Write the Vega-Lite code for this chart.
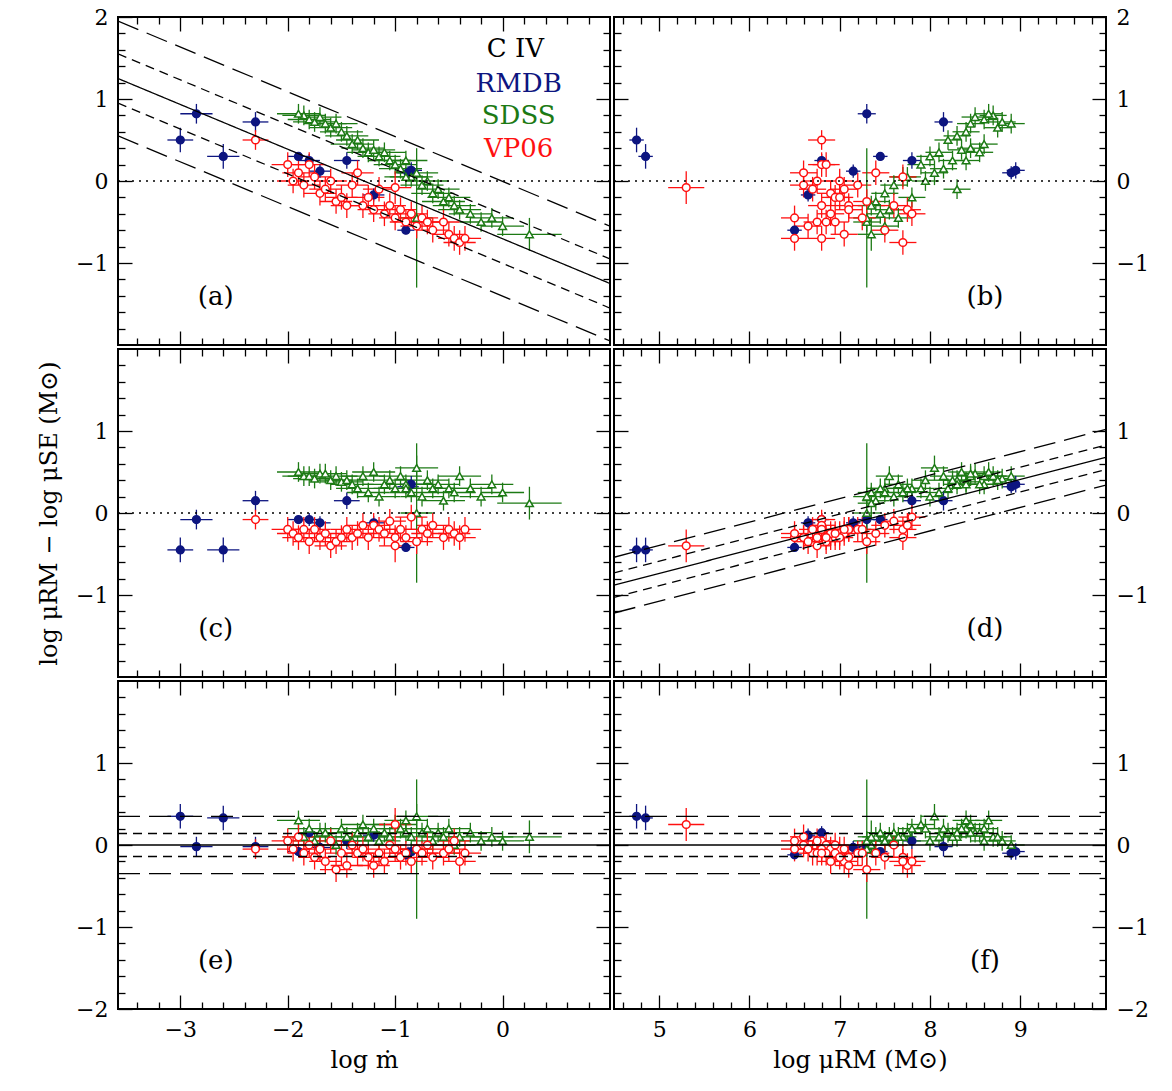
{
"$schema":"https://vega.github.io/schema/vega-lite/v6.json",
"padding":{"left":36,"top":5,"right":8,"bottom":4},
"background":"white",
"spacing":0,
"config":{"view":{"stroke":"black","strokeWidth":2},"concat":{"spacing":0},
"axis":{"grid":false,"domain":false,"tickColor":"black","tickWidth":1.3,"labelColor":"black","labelFont":"DejaVu Serif","labelFontSize":22,"titleFont":"DejaVu Serif","titleFontSize":24,"titleFontWeight":"normal","titleColor":"black","labelOverlap":false,"labelFlush":false,"labelBound":false},
"text":{"font":"DejaVu Serif"}},
"datasets":{
"pts":[
{"g":"RMDB","m":-3.0,"em":0.12,"M":4.75,"eM":0.08,"r1":0.5,"r2":-0.45,"r3":0.35,"ey":0.15},
{"g":"RMDB","m":-2.85,"em":0.15,"M":7.3,"eM":0.1,"r1":0.82,"r2":-0.08,"r3":-0.02,"ey":0.12},
{"g":"RMDB","m":-2.6,"em":0.15,"M":4.85,"eM":0.08,"r1":0.3,"r2":-0.45,"r3":0.33,"ey":0.15},
{"g":"RMDB","m":-2.3,"em":0.12,"M":8.15,"eM":0.1,"r1":0.72,"r2":0.15,"r3":-0.02,"ey":0.12},
{"g":"RMDB","m":-1.9,"em":0.1,"M":7.45,"eM":0.08,"r1":0.3,"r2":-0.08,"r3":-0.08,"ey":0.05},
{"g":"RMDB","m":-1.8,"em":0.1,"M":6.8,"eM":0.08,"r1":0.25,"r2":-0.08,"r3":0.15,"ey":0.08},
{"g":"RMDB","m":-1.7,"em":0.1,"M":7.15,"eM":0.08,"r1":0.12,"r2":-0.12,"r3":-0.03,"ey":0.08},
{"g":"RMDB","m":-1.45,"em":0.12,"M":7.8,"eM":0.1,"r1":0.25,"r2":0.15,"r3":0.05,"ey":0.1},
{"g":"RMDB","m":-1.2,"em":0.1,"M":6.65,"eM":0.08,"r1":-0.17,"r2":-0.12,"r3":0.12,"ey":0.08},
{"g":"RMDB","m":-0.9,"em":0.08,"M":6.5,"eM":0.08,"r1":-0.6,"r2":-0.42,"r3":-0.12,"ey":0.05},
{"g":"RMDB","m":-0.88,"em":0.1,"M":8.9,"eM":0.1,"r1":0.1,"r2":0.32,"r3":-0.1,"ey":0.08},
{"g":"RMDB","m":-0.85,"em":0.1,"M":8.95,"eM":0.1,"r1":0.13,"r2":0.35,"r3":-0.08,"ey":0.1},
{"g":"SDSS","m":-1.85,"em":0.2,"M":8.7,"eM":0.15,"r1":0.8,"r2":0.45,"r3":0.1,"ey":0.12},
{"g":"SDSS","m":-1.8,"em":0.2,"M":8.6,"eM":0.15,"r1":0.75,"r2":0.45,"r3":0.2,"ey":0.12},
{"g":"SDSS","m":-1.75,"em":0.2,"M":8.8,"eM":0.15,"r1":0.72,"r2":0.42,"r3":0.05,"ey":0.12},
{"g":"SDSS","m":-1.7,"em":0.2,"M":8.5,"eM":0.15,"r1":0.78,"r2":0.48,"r3":0.15,"ey":0.12},
{"g":"SDSS","m":-1.6,"em":0.2,"M":8.75,"eM":0.15,"r1":0.65,"r2":0.4,"r3":0.1,"ey":0.12},
{"g":"SDSS","m":-1.55,"em":0.2,"M":8.9,"eM":0.15,"r1":0.7,"r2":0.45,"r3":0.0,"ey":0.12},
{"g":"SDSS","m":-1.5,"em":0.2,"M":8.4,"eM":0.15,"r1":0.6,"r2":0.38,"r3":0.2,"ey":0.12},
{"g":"SDSS","m":-1.45,"em":0.2,"M":8.3,"eM":0.15,"r1":0.55,"r2":0.4,"r3":0.1,"ey":0.12},
{"g":"SDSS","m":-1.4,"em":0.2,"M":8.6,"eM":0.15,"r1":0.45,"r2":0.35,"r3":0.05,"ey":0.12},
{"g":"SDSS","m":-1.35,"em":0.2,"M":8.2,"eM":0.15,"r1":0.5,"r2":0.3,"r3":0.15,"ey":0.12},
{"g":"SDSS","m":-1.3,"em":0.2,"M":8.45,"eM":0.15,"r1":0.4,"r2":0.45,"r3":0.25,"ey":0.12},
{"g":"SDSS","m":-1.25,"em":0.2,"M":8.1,"eM":0.15,"r1":0.35,"r2":0.25,"r3":0.1,"ey":0.12},
{"g":"SDSS","m":-1.2,"em":0.2,"M":8.35,"eM":0.15,"r1":0.38,"r2":0.5,"r3":0.2,"ey":0.12},
{"g":"SDSS","m":-1.15,"em":0.2,"M":8.0,"eM":0.15,"r1":0.3,"r2":0.2,"r3":0.05,"ey":0.12},
{"g":"SDSS","m":-1.1,"em":0.2,"M":8.55,"eM":0.15,"r1":0.35,"r2":0.35,"r3":0.15,"ey":0.12},
{"g":"SDSS","m":-1.05,"em":0.2,"M":8.25,"eM":0.15,"r1":0.25,"r2":0.4,"r3":0.1,"ey":0.12},
{"g":"SDSS","m":-1.0,"em":0.2,"M":7.9,"eM":0.15,"r1":0.2,"r2":0.3,"r3":0.25,"ey":0.12},
{"g":"SDSS","m":-0.95,"em":0.2,"M":8.15,"eM":0.15,"r1":0.15,"r2":0.45,"r3":0.2,"ey":0.12},
{"g":"SDSS","m":-0.9,"em":0.2,"M":8.4,"eM":0.15,"r1":0.25,"r2":0.35,"r3":0.3,"ey":0.12},
{"g":"SDSS","m":-0.85,"em":0.2,"M":7.7,"eM":0.15,"r1":0.05,"r2":0.25,"r3":0.1,"ey":0.12},
{"g":"SDSS","m":-0.8,"em":0.2,"M":8.05,"eM":0.15,"r1":0.1,"r2":0.55,"r3":0.35,"ey":0.15},
{"g":"SDSS","m":-0.75,"em":0.2,"M":7.6,"eM":0.15,"r1":-0.05,"r2":0.2,"r3":0.15,"ey":0.12},
{"g":"SDSS","m":-0.7,"em":0.2,"M":7.95,"eM":0.15,"r1":0.0,"r2":0.4,"r3":0.2,"ey":0.12},
{"g":"SDSS","m":-0.65,"em":0.2,"M":7.5,"eM":0.15,"r1":-0.15,"r2":0.3,"r3":0.05,"ey":0.12},
{"g":"SDSS","m":-0.6,"em":0.2,"M":8.3,"eM":0.15,"r1":-0.1,"r2":0.35,"r3":0.15,"ey":0.12},
{"g":"SDSS","m":-0.55,"em":0.2,"M":7.4,"eM":0.15,"r1":-0.25,"r2":0.15,"r3":0.1,"ey":0.12},
{"g":"SDSS","m":-0.5,"em":0.2,"M":7.8,"eM":0.15,"r1":-0.2,"r2":0.3,"r3":0.2,"ey":0.12},
{"g":"SDSS","m":-0.45,"em":0.2,"M":7.35,"eM":0.15,"r1":-0.3,"r2":0.25,"r3":0.0,"ey":0.12},
{"g":"SDSS","m":-0.4,"em":0.2,"M":7.55,"eM":0.15,"r1":-0.35,"r2":0.45,"r3":0.1,"ey":0.12},
{"g":"SDSS","m":-0.3,"em":0.2,"M":7.45,"eM":0.15,"r1":-0.4,"r2":0.3,"r3":0.15,"ey":0.12},
{"g":"SDSS","m":-0.2,"em":0.2,"M":7.3,"eM":0.15,"r1":-0.5,"r2":0.2,"r3":0.05,"ey":0.12},
{"g":"SDSS","m":-0.1,"em":0.2,"M":7.65,"eM":0.15,"r1":-0.45,"r2":0.35,"r3":0.1,"ey":0.12},
{"g":"SDSS","m":0.0,"em":0.2,"M":7.5,"eM":0.15,"r1":-0.55,"r2":0.25,"r3":0.05,"ey":0.12},
{"g":"SDSS","m":0.25,"em":0.3,"M":7.35,"eM":0.15,"r1":-0.65,"r2":0.12,"r3":0.1,"ey":0.2},
{"g":"SDSS","m":-1.9,"em":0.2,"M":8.65,"eM":0.15,"r1":0.82,"r2":0.5,"r3":0.3,"ey":0.12},
{"g":"SDSS","m":-1.65,"em":0.2,"M":8.45,"eM":0.15,"r1":0.7,"r2":0.48,"r3":0.15,"ey":0.12},
{"g":"SDSS","m":-0.9,"em":0.2,"M":7.75,"eM":0.15,"r1":0.05,"r2":0.3,"r3":0.15,"ey":0.12},
{"g":"SDSS","m":-0.8,"em":0.15,"M":7.3,"eM":0.15,"r1":-0.45,"r2":0.0,"r3":-0.05,"ey":0.85},
{"g":"VP06","m":-2.3,"em":0.12,"M":6.8,"eM":0.15,"r1":0.5,"r2":-0.08,"r3":-0.05,"ey":0.12},
{"g":"VP06","m":-2.0,"em":0.15,"M":6.8,"eM":0.15,"r1":0.2,"r2":-0.2,"r3":0.05,"ey":0.15},
{"g":"VP06","m":-1.95,"em":0.15,"M":7.0,"eM":0.15,"r1":0.0,"r2":-0.25,"r3":-0.05,"ey":0.15},
{"g":"VP06","m":-1.9,"em":0.15,"M":6.6,"eM":0.15,"r1":0.1,"r2":-0.3,"r3":0.1,"ey":0.15},
{"g":"VP06","m":-1.85,"em":0.15,"M":7.2,"eM":0.15,"r1":-0.05,"r2":-0.2,"r3":-0.1,"ey":0.15},
{"g":"VP06","m":-1.8,"em":0.15,"M":6.85,"eM":0.15,"r1":0.2,"r2":-0.35,"r3":0.0,"ey":0.15},
{"g":"VP06","m":-1.75,"em":0.15,"M":7.7,"eM":0.15,"r1":0.05,"r2":-0.2,"r3":-0.15,"ey":0.15},
{"g":"VP06","m":-1.7,"em":0.15,"M":6.9,"eM":0.15,"r1":-0.15,"r2":-0.3,"r3":-0.05,"ey":0.15},
{"g":"VP06","m":-1.65,"em":0.15,"M":7.05,"eM":0.15,"r1":-0.1,"r2":-0.25,"r3":-0.2,"ey":0.15},
{"g":"VP06","m":-1.6,"em":0.15,"M":6.75,"eM":0.15,"r1":0.0,"r2":-0.4,"r3":0.05,"ey":0.15},
{"g":"VP06","m":-1.55,"em":0.15,"M":7.3,"eM":0.15,"r1":-0.25,"r2":-0.35,"r3":-0.3,"ey":0.15},
{"g":"VP06","m":-1.5,"em":0.15,"M":6.95,"eM":0.15,"r1":-0.2,"r2":-0.3,"r3":-0.1,"ey":0.15},
{"g":"VP06","m":-1.45,"em":0.15,"M":7.1,"eM":0.15,"r1":-0.3,"r2":-0.2,"r3":-0.25,"ey":0.15},
{"g":"VP06","m":-1.4,"em":0.15,"M":6.6,"eM":0.15,"r1":-0.05,"r2":-0.3,"r3":0.0,"ey":0.15},
{"g":"VP06","m":-1.35,"em":0.15,"M":7.4,"eM":0.15,"r1":0.1,"r2":-0.25,"r3":-0.1,"ey":0.15},
{"g":"VP06","m":-1.3,"em":0.15,"M":6.8,"eM":0.15,"r1":-0.3,"r2":-0.15,"r3":-0.05,"ey":0.15},
{"g":"VP06","m":-1.25,"em":0.15,"M":7.0,"eM":0.15,"r1":-0.2,"r2":-0.3,"r3":-0.15,"ey":0.15},
{"g":"VP06","m":-1.2,"em":0.15,"M":7.75,"eM":0.15,"r1":-0.35,"r2":-0.15,"r3":-0.25,"ey":0.15},
{"g":"VP06","m":-1.15,"em":0.15,"M":6.7,"eM":0.15,"r1":-0.1,"r2":-0.2,"r3":-0.1,"ey":0.15},
{"g":"VP06","m":-1.1,"em":0.15,"M":6.9,"eM":0.15,"r1":-0.4,"r2":-0.25,"r3":-0.2,"ey":0.15},
{"g":"VP06","m":-1.05,"em":0.15,"M":7.6,"eM":0.15,"r1":-0.3,"r2":-0.1,"r3":0.0,"ey":0.15},
{"g":"VP06","m":-1.0,"em":0.15,"M":6.5,"eM":0.15,"r1":-0.45,"r2":-0.3,"r3":-0.05,"ey":0.15},
{"g":"VP06","m":-0.95,"em":0.15,"M":7.1,"eM":0.15,"r1":-0.35,"r2":-0.2,"r3":-0.15,"ey":0.15},
{"g":"VP06","m":-0.9,"em":0.15,"M":6.85,"eM":0.15,"r1":-0.5,"r2":-0.3,"r3":-0.1,"ey":0.15},
{"g":"VP06","m":-0.85,"em":0.15,"M":7.8,"eM":0.15,"r1":-0.4,"r2":-0.05,"r3":-0.2,"ey":0.15},
{"g":"VP06","m":-0.8,"em":0.15,"M":6.65,"eM":0.15,"r1":-0.55,"r2":-0.35,"r3":-0.05,"ey":0.15},
{"g":"VP06","m":-0.75,"em":0.15,"M":7.25,"eM":0.15,"r1":-0.45,"r2":-0.2,"r3":-0.1,"ey":0.15},
{"g":"VP06","m":-0.7,"em":0.15,"M":6.95,"eM":0.15,"r1":-0.5,"r2":-0.25,"r3":0.0,"ey":0.15},
{"g":"VP06","m":-0.65,"em":0.15,"M":7.5,"eM":0.15,"r1":-0.6,"r2":-0.15,"r3":-0.15,"ey":0.15},
{"g":"VP06","m":-0.55,"em":0.15,"M":6.75,"eM":0.15,"r1":-0.5,"r2":-0.3,"r3":-0.1,"ey":0.15},
{"g":"VP06","m":-0.5,"em":0.15,"M":7.05,"eM":0.15,"r1":-0.65,"r2":-0.2,"r3":-0.05,"ey":0.15},
{"g":"VP06","m":-0.45,"em":0.15,"M":6.5,"eM":0.15,"r1":-0.7,"r2":-0.25,"r3":0.05,"ey":0.15},
{"g":"VP06","m":-0.4,"em":0.15,"M":7.7,"eM":0.15,"r1":-0.75,"r2":-0.3,"r3":-0.2,"ey":0.15},
{"g":"VP06","m":-0.35,"em":0.15,"M":6.8,"eM":0.15,"r1":-0.7,"r2":-0.2,"r3":-0.1,"ey":0.15},
{"g":"VP06","m":-1.0,"em":0.15,"M":5.3,"eM":0.2,"r1":-0.08,"r2":-0.4,"r3":0.25,"ey":0.2}
],
"lines":[
{"p":"a","id":"a0","s":"dot","x":-3.58,"y":0},{"p":"a","id":"a0","s":"dot","x":1.0,"y":0},
{"p":"a","id":"a1","s":"solid","x":-3.58,"y":1.25},{"p":"a","id":"a1","s":"solid","x":1.0,"y":-1.25},
{"p":"a","id":"a2","s":"short","x":-3.58,"y":1.55},{"p":"a","id":"a2","s":"short","x":1.0,"y":-0.95},
{"p":"a","id":"a3","s":"short","x":-3.58,"y":0.95},{"p":"a","id":"a3","s":"short","x":1.0,"y":-1.55},
{"p":"a","id":"a4","s":"long","x":-3.58,"y":1.95},{"p":"a","id":"a4","s":"long","x":1.0,"y":-0.55},
{"p":"a","id":"a5","s":"long","x":-3.58,"y":0.55},{"p":"a","id":"a5","s":"long","x":1.0,"y":-1.95},
{"p":"b","id":"b0","s":"dot","x":4.5,"y":0},{"p":"b","id":"b0","s":"dot","x":9.95,"y":0},
{"p":"c","id":"c0","s":"dot","x":-3.58,"y":0},{"p":"c","id":"c0","s":"dot","x":1.0,"y":0},
{"p":"d","id":"d0","s":"dot","x":4.5,"y":0},{"p":"d","id":"d0","s":"dot","x":9.95,"y":0},
{"p":"d","id":"d1","s":"solid","x":4.5,"y":-0.88},{"p":"d","id":"d1","s":"solid","x":9.95,"y":0.68},
{"p":"d","id":"d2","s":"short","x":4.5,"y":-0.73},{"p":"d","id":"d2","s":"short","x":9.95,"y":0.83},
{"p":"d","id":"d3","s":"short","x":4.5,"y":-1.03},{"p":"d","id":"d3","s":"short","x":9.95,"y":0.53},
{"p":"d","id":"d4","s":"long","x":4.5,"y":-0.54},{"p":"d","id":"d4","s":"long","x":9.95,"y":1.02},
{"p":"d","id":"d5","s":"long","x":4.5,"y":-1.22},{"p":"d","id":"d5","s":"long","x":9.95,"y":0.34},
{"p":"e","id":"e1","s":"solid","x":-3.58,"y":0},{"p":"e","id":"e1","s":"solid","x":1.0,"y":0},
{"p":"e","id":"e2","s":"short","x":-3.58,"y":0.14},{"p":"e","id":"e2","s":"short","x":1.0,"y":0.14},
{"p":"e","id":"e3","s":"short","x":-3.58,"y":-0.14},{"p":"e","id":"e3","s":"short","x":1.0,"y":-0.14},
{"p":"e","id":"e4","s":"long","x":-3.58,"y":0.35},{"p":"e","id":"e4","s":"long","x":1.0,"y":0.35},
{"p":"e","id":"e5","s":"long","x":-3.58,"y":-0.35},{"p":"e","id":"e5","s":"long","x":1.0,"y":-0.35},
{"p":"f","id":"f1","s":"solid","x":4.5,"y":0},{"p":"f","id":"f1","s":"solid","x":9.95,"y":0},
{"p":"f","id":"f2","s":"short","x":4.5,"y":0.14},{"p":"f","id":"f2","s":"short","x":9.95,"y":0.14},
{"p":"f","id":"f3","s":"short","x":4.5,"y":-0.14},{"p":"f","id":"f3","s":"short","x":9.95,"y":-0.14},
{"p":"f","id":"f4","s":"long","x":4.5,"y":0.35},{"p":"f","id":"f4","s":"long","x":9.95,"y":0.35},
{"p":"f","id":"f5","s":"long","x":4.5,"y":-0.35},{"p":"f","id":"f5","s":"long","x":9.95,"y":-0.35}
],
"txt":[
{"p":"a","x":0.12,"y":1.61,"t":"C  IV","c":"black"},
{"p":"a","x":0.15,"y":1.18,"t":"RMDB","c":"#0d1580"},
{"p":"a","x":0.15,"y":0.79,"t":"SDSS","c":"#1c7a14"},
{"p":"a","x":0.15,"y":0.39,"t":"VP06","c":"#ff1010"},
{"p":"a","x":-2.67,"y":-1.42,"t":"(a)","c":"black"},
{"p":"b","x":8.61,"y":-1.42,"t":"(b)","c":"black"},
{"p":"c","x":-2.67,"y":-1.42,"t":"(c)","c":"black"},
{"p":"d","x":8.61,"y":-1.42,"t":"(d)","c":"black"},
{"p":"e","x":-2.67,"y":-1.42,"t":"(e)","c":"black"},
{"p":"f","x":8.61,"y":-1.42,"t":"(f)","c":"black"}
]},
"vconcat":[
{"spacing":0,"hconcat":[
{"width":492,"height":328,"resolve":{"axis":{"x":"independent","y":"independent"}},"layer":[
{"data":{"name":"pts"},"mark":{"type":"errorbar","thickness":1.3},"encoding":{"x":{"field":"m","type":"quantitative","scale":{"domain":[-3.58,1.0],"nice":false,"zero":false},"axis":{"orient":"bottom","values":[-3,-2,-1,0],"tickSize":-14,"labels":false,"title":null}},"xError":{"field":"em"},"y":{"field":"r1","type":"quantitative","scale":{"domain":[-2,2],"nice":false,"zero":false},"axis":{"orient":"left","values":[-1,0,1,2],"tickSize":-14,"labelPadding":24,"title":null}},"color":{"field":"g","type":"nominal","scale":{"domain":["RMDB","SDSS","VP06"],"range":["#0d1580","#1c7a14","#ff1010"]},"legend":null}}},
{"data":{"name":"pts"},"mark":{"type":"errorbar","thickness":1.3},"encoding":{"y":{"field":"r1","type":"quantitative","scale":{"domain":[-2,2],"nice":false,"zero":false},"axis":{"orient":"right","values":[-1,0,1],"tickSize":-14,"labels":false,"title":null}},"yError":{"field":"ey"},"x":{"field":"m","type":"quantitative","scale":{"domain":[-3.58,1.0],"nice":false,"zero":false},"axis":{"orient":"top","values":[-3,-2,-1,0],"tickSize":-14,"labels":false,"title":null}},"color":{"field":"g","type":"nominal","legend":null}}},
{"data":{"name":"pts"},"mark":{"type":"point","filled":false,"size":60,"strokeWidth":1.5,"opacity":1},"encoding":{"x":{"field":"m","type":"quantitative","scale":{"domain":[-3.58,1.0],"nice":false,"zero":false},"axis":{"orient":"bottom","values":[-3.4,-3.2,-2.8,-2.6,-2.4,-2.2,-1.8,-1.6,-1.4,-1.2,-0.8,-0.6,-0.4,-0.2,0.2,0.4,0.6,0.8],"tickSize":-7,"labels":false,"title":null}},"y":{"field":"r1","type":"quantitative","scale":{"domain":[-2,2],"nice":false,"zero":false},"axis":{"orient":"left","values":[-1.8,-1.6,-1.4,-1.2,-0.8,-0.6,-0.4,-0.2,0.2,0.4,0.6,0.8,1.2,1.4,1.6,1.8],"tickSize":-7,"labels":false,"title":null}},"stroke":{"field":"g","type":"nominal","scale":{"domain":["RMDB","SDSS","VP06"],"range":["#0d1580","#1c7a14","#ff1010"]},"legend":null},"fill":{"field":"g","type":"nominal","scale":{"domain":["RMDB","SDSS","VP06"],"range":["#0d1580","white","white"]},"legend":null},"shape":{"field":"g","type":"nominal","scale":{"domain":["RMDB","SDSS","VP06"],"range":["circle","triangle-up","circle"]},"legend":null}}},
{"data":{"name":"lines"},"transform":[{"filter":"datum.p=='a'"}],"mark":{"type":"line","clip":true,"color":"black","strokeWidth":1.3},"encoding":{"x":{"field":"x","type":"quantitative","scale":{"domain":[-3.58,1.0],"nice":false,"zero":false},"axis":{"orient":"top","values":[-3.4,-3.2,-2.8,-2.6,-2.4,-2.2,-1.8,-1.6,-1.4,-1.2,-0.8,-0.6,-0.4,-0.2,0.2,0.4,0.6,0.8],"tickSize":-7,"labels":false,"title":null}},"y":{"field":"y","type":"quantitative","scale":{"domain":[-2,2],"nice":false,"zero":false},"axis":{"orient":"right","values":[-1.8,-1.6,-1.4,-1.2,-0.8,-0.6,-0.4,-0.2,0.2,0.4,0.6,0.8,1.2,1.4,1.6,1.8],"tickSize":-7,"labels":false,"title":null}},"detail":{"field":"id"},"strokeDash":{"field":"s","type":"nominal","scale":{"domain":["solid","short","long","dot"],"range":[[1,0],[9,6],[22,9],[2,5]]},"legend":null}}},
{"data":{"name":"txt"},"transform":[{"filter":"datum.p=='a'"}],"mark":{"type":"text","fontSize":26,"align":"center","baseline":"middle"},"encoding":{"x":{"field":"x","type":"quantitative","axis":null},"y":{"field":"y","type":"quantitative","axis":null},"text":{"field":"t"},"color":{"field":"c","type":"nominal","scale":null}}}
]},
{"width":492,"height":328,"resolve":{"axis":{"x":"independent","y":"independent"}},"layer":[
{"data":{"name":"pts"},"mark":{"type":"errorbar","thickness":1.3},"encoding":{"x":{"field":"M","type":"quantitative","scale":{"domain":[4.5,9.95],"nice":false,"zero":false},"axis":{"orient":"bottom","values":[5,6,7,8,9],"tickSize":-14,"labels":false,"title":null}},"xError":{"field":"eM"},"y":{"field":"r1","type":"quantitative","scale":{"domain":[-2,2],"nice":false,"zero":false},"axis":{"orient":"left","values":[-1,0,1],"tickSize":-14,"labels":false,"title":null}},"color":{"field":"g","type":"nominal","scale":{"domain":["RMDB","SDSS","VP06"],"range":["#0d1580","#1c7a14","#ff1010"]},"legend":null}}},
{"data":{"name":"pts"},"mark":{"type":"errorbar","thickness":1.3},"encoding":{"y":{"field":"r1","type":"quantitative","scale":{"domain":[-2,2],"nice":false,"zero":false},"axis":{"orient":"right","values":[-1,0,1,2],"tickSize":-14,"labelPadding":24,"title":null}},"yError":{"field":"ey"},"x":{"field":"M","type":"quantitative","scale":{"domain":[4.5,9.95],"nice":false,"zero":false},"axis":{"orient":"top","values":[5,6,7,8,9],"tickSize":-14,"labels":false,"title":null}},"color":{"field":"g","type":"nominal","legend":null}}},
{"data":{"name":"pts"},"mark":{"type":"point","filled":false,"size":60,"strokeWidth":1.5,"opacity":1},"encoding":{"x":{"field":"M","type":"quantitative","scale":{"domain":[4.5,9.95],"nice":false,"zero":false},"axis":{"orient":"bottom","values":[4.6,4.8,5.2,5.4,5.6,5.8,6.2,6.4,6.6,6.8,7.2,7.4,7.6,7.8,8.2,8.4,8.6,8.8,9.2,9.4,9.6,9.8],"tickSize":-7,"labels":false,"title":null}},"y":{"field":"r1","type":"quantitative","scale":{"domain":[-2,2],"nice":false,"zero":false},"axis":{"orient":"left","values":[-1.8,-1.6,-1.4,-1.2,-0.8,-0.6,-0.4,-0.2,0.2,0.4,0.6,0.8,1.2,1.4,1.6,1.8],"tickSize":-7,"labels":false,"title":null}},"stroke":{"field":"g","type":"nominal","scale":{"domain":["RMDB","SDSS","VP06"],"range":["#0d1580","#1c7a14","#ff1010"]},"legend":null},"fill":{"field":"g","type":"nominal","scale":{"domain":["RMDB","SDSS","VP06"],"range":["#0d1580","white","white"]},"legend":null},"shape":{"field":"g","type":"nominal","scale":{"domain":["RMDB","SDSS","VP06"],"range":["circle","triangle-up","circle"]},"legend":null}}},
{"data":{"name":"lines"},"transform":[{"filter":"datum.p=='b'"}],"mark":{"type":"line","clip":true,"color":"black","strokeWidth":1.3},"encoding":{"x":{"field":"x","type":"quantitative","scale":{"domain":[4.5,9.95],"nice":false,"zero":false},"axis":{"orient":"top","values":[4.6,4.8,5.2,5.4,5.6,5.8,6.2,6.4,6.6,6.8,7.2,7.4,7.6,7.8,8.2,8.4,8.6,8.8,9.2,9.4,9.6,9.8],"tickSize":-7,"labels":false,"title":null}},"y":{"field":"y","type":"quantitative","scale":{"domain":[-2,2],"nice":false,"zero":false},"axis":{"orient":"right","values":[-1.8,-1.6,-1.4,-1.2,-0.8,-0.6,-0.4,-0.2,0.2,0.4,0.6,0.8,1.2,1.4,1.6,1.8],"tickSize":-7,"labels":false,"title":null}},"detail":{"field":"id"},"strokeDash":{"field":"s","type":"nominal","scale":{"domain":["solid","short","long","dot"],"range":[[1,0],[9,6],[22,9],[2,5]]},"legend":null}}},
{"data":{"name":"txt"},"transform":[{"filter":"datum.p=='b'"}],"mark":{"type":"text","fontSize":26,"align":"center","baseline":"middle"},"encoding":{"x":{"field":"x","type":"quantitative","axis":null},"y":{"field":"y","type":"quantitative","axis":null},"text":{"field":"t"},"color":{"field":"c","type":"nominal","scale":null}}}
]}
]},
{"spacing":0,"hconcat":[
{"width":492,"height":328,"resolve":{"axis":{"x":"independent","y":"independent"}},"layer":[
{"data":{"name":"pts"},"mark":{"type":"errorbar","thickness":1.3},"encoding":{"x":{"field":"m","type":"quantitative","scale":{"domain":[-3.58,1.0],"nice":false,"zero":false},"axis":{"orient":"bottom","values":[-3,-2,-1,0],"tickSize":-14,"labels":false,"title":null}},"xError":{"field":"em"},"y":{"field":"r2","type":"quantitative","scale":{"domain":[-2,2],"nice":false,"zero":false},"axis":{"orient":"left","values":[-1,0,1],"tickSize":-14,"labelPadding":24,"title":"log μRM − log μSE (M⊙)","titlePadding":14}},"color":{"field":"g","type":"nominal","scale":{"domain":["RMDB","SDSS","VP06"],"range":["#0d1580","#1c7a14","#ff1010"]},"legend":null}}},
{"data":{"name":"pts"},"mark":{"type":"errorbar","thickness":1.3},"encoding":{"y":{"field":"r2","type":"quantitative","scale":{"domain":[-2,2],"nice":false,"zero":false},"axis":{"orient":"right","values":[-1,0,1],"tickSize":-14,"labels":false,"title":null}},"yError":{"field":"ey"},"x":{"field":"m","type":"quantitative","scale":{"domain":[-3.58,1.0],"nice":false,"zero":false},"axis":{"orient":"top","values":[-3,-2,-1,0],"tickSize":-14,"labels":false,"title":null}},"color":{"field":"g","type":"nominal","legend":null}}},
{"data":{"name":"pts"},"mark":{"type":"point","filled":false,"size":60,"strokeWidth":1.5,"opacity":1},"encoding":{"x":{"field":"m","type":"quantitative","scale":{"domain":[-3.58,1.0],"nice":false,"zero":false},"axis":{"orient":"bottom","values":[-3.4,-3.2,-2.8,-2.6,-2.4,-2.2,-1.8,-1.6,-1.4,-1.2,-0.8,-0.6,-0.4,-0.2,0.2,0.4,0.6,0.8],"tickSize":-7,"labels":false,"title":null}},"y":{"field":"r2","type":"quantitative","scale":{"domain":[-2,2],"nice":false,"zero":false},"axis":{"orient":"left","values":[-1.8,-1.6,-1.4,-1.2,-0.8,-0.6,-0.4,-0.2,0.2,0.4,0.6,0.8,1.2,1.4,1.6,1.8],"tickSize":-7,"labels":false,"title":null}},"stroke":{"field":"g","type":"nominal","scale":{"domain":["RMDB","SDSS","VP06"],"range":["#0d1580","#1c7a14","#ff1010"]},"legend":null},"fill":{"field":"g","type":"nominal","scale":{"domain":["RMDB","SDSS","VP06"],"range":["#0d1580","white","white"]},"legend":null},"shape":{"field":"g","type":"nominal","scale":{"domain":["RMDB","SDSS","VP06"],"range":["circle","triangle-up","circle"]},"legend":null}}},
{"data":{"name":"lines"},"transform":[{"filter":"datum.p=='c'"}],"mark":{"type":"line","clip":true,"color":"black","strokeWidth":1.3},"encoding":{"x":{"field":"x","type":"quantitative","scale":{"domain":[-3.58,1.0],"nice":false,"zero":false},"axis":{"orient":"top","values":[-3.4,-3.2,-2.8,-2.6,-2.4,-2.2,-1.8,-1.6,-1.4,-1.2,-0.8,-0.6,-0.4,-0.2,0.2,0.4,0.6,0.8],"tickSize":-7,"labels":false,"title":null}},"y":{"field":"y","type":"quantitative","scale":{"domain":[-2,2],"nice":false,"zero":false},"axis":{"orient":"right","values":[-1.8,-1.6,-1.4,-1.2,-0.8,-0.6,-0.4,-0.2,0.2,0.4,0.6,0.8,1.2,1.4,1.6,1.8],"tickSize":-7,"labels":false,"title":null}},"detail":{"field":"id"},"strokeDash":{"field":"s","type":"nominal","scale":{"domain":["solid","short","long","dot"],"range":[[1,0],[9,6],[22,9],[2,5]]},"legend":null}}},
{"data":{"name":"txt"},"transform":[{"filter":"datum.p=='c'"}],"mark":{"type":"text","fontSize":26,"align":"center","baseline":"middle"},"encoding":{"x":{"field":"x","type":"quantitative","axis":null},"y":{"field":"y","type":"quantitative","axis":null},"text":{"field":"t"},"color":{"field":"c","type":"nominal","scale":null}}}
]},
{"width":492,"height":328,"resolve":{"axis":{"x":"independent","y":"independent"}},"layer":[
{"data":{"name":"pts"},"mark":{"type":"errorbar","thickness":1.3},"encoding":{"x":{"field":"M","type":"quantitative","scale":{"domain":[4.5,9.95],"nice":false,"zero":false},"axis":{"orient":"bottom","values":[5,6,7,8,9],"tickSize":-14,"labels":false,"title":null}},"xError":{"field":"eM"},"y":{"field":"r2","type":"quantitative","scale":{"domain":[-2,2],"nice":false,"zero":false},"axis":{"orient":"left","values":[-1,0,1],"tickSize":-14,"labels":false,"title":null}},"color":{"field":"g","type":"nominal","scale":{"domain":["RMDB","SDSS","VP06"],"range":["#0d1580","#1c7a14","#ff1010"]},"legend":null}}},
{"data":{"name":"pts"},"mark":{"type":"errorbar","thickness":1.3},"encoding":{"y":{"field":"r2","type":"quantitative","scale":{"domain":[-2,2],"nice":false,"zero":false},"axis":{"orient":"right","values":[-1,0,1],"tickSize":-14,"labelPadding":24,"title":null}},"yError":{"field":"ey"},"x":{"field":"M","type":"quantitative","scale":{"domain":[4.5,9.95],"nice":false,"zero":false},"axis":{"orient":"top","values":[5,6,7,8,9],"tickSize":-14,"labels":false,"title":null}},"color":{"field":"g","type":"nominal","legend":null}}},
{"data":{"name":"pts"},"mark":{"type":"point","filled":false,"size":60,"strokeWidth":1.5,"opacity":1},"encoding":{"x":{"field":"M","type":"quantitative","scale":{"domain":[4.5,9.95],"nice":false,"zero":false},"axis":{"orient":"bottom","values":[4.6,4.8,5.2,5.4,5.6,5.8,6.2,6.4,6.6,6.8,7.2,7.4,7.6,7.8,8.2,8.4,8.6,8.8,9.2,9.4,9.6,9.8],"tickSize":-7,"labels":false,"title":null}},"y":{"field":"r2","type":"quantitative","scale":{"domain":[-2,2],"nice":false,"zero":false},"axis":{"orient":"left","values":[-1.8,-1.6,-1.4,-1.2,-0.8,-0.6,-0.4,-0.2,0.2,0.4,0.6,0.8,1.2,1.4,1.6,1.8],"tickSize":-7,"labels":false,"title":null}},"stroke":{"field":"g","type":"nominal","scale":{"domain":["RMDB","SDSS","VP06"],"range":["#0d1580","#1c7a14","#ff1010"]},"legend":null},"fill":{"field":"g","type":"nominal","scale":{"domain":["RMDB","SDSS","VP06"],"range":["#0d1580","white","white"]},"legend":null},"shape":{"field":"g","type":"nominal","scale":{"domain":["RMDB","SDSS","VP06"],"range":["circle","triangle-up","circle"]},"legend":null}}},
{"data":{"name":"lines"},"transform":[{"filter":"datum.p=='d'"}],"mark":{"type":"line","clip":true,"color":"black","strokeWidth":1.3},"encoding":{"x":{"field":"x","type":"quantitative","scale":{"domain":[4.5,9.95],"nice":false,"zero":false},"axis":{"orient":"top","values":[4.6,4.8,5.2,5.4,5.6,5.8,6.2,6.4,6.6,6.8,7.2,7.4,7.6,7.8,8.2,8.4,8.6,8.8,9.2,9.4,9.6,9.8],"tickSize":-7,"labels":false,"title":null}},"y":{"field":"y","type":"quantitative","scale":{"domain":[-2,2],"nice":false,"zero":false},"axis":{"orient":"right","values":[-1.8,-1.6,-1.4,-1.2,-0.8,-0.6,-0.4,-0.2,0.2,0.4,0.6,0.8,1.2,1.4,1.6,1.8],"tickSize":-7,"labels":false,"title":null}},"detail":{"field":"id"},"strokeDash":{"field":"s","type":"nominal","scale":{"domain":["solid","short","long","dot"],"range":[[1,0],[9,6],[22,9],[2,5]]},"legend":null}}},
{"data":{"name":"txt"},"transform":[{"filter":"datum.p=='d'"}],"mark":{"type":"text","fontSize":26,"align":"center","baseline":"middle"},"encoding":{"x":{"field":"x","type":"quantitative","axis":null},"y":{"field":"y","type":"quantitative","axis":null},"text":{"field":"t"},"color":{"field":"c","type":"nominal","scale":null}}}
]}
]},
{"spacing":0,"hconcat":[
{"width":492,"height":328,"resolve":{"axis":{"x":"independent","y":"independent"}},"layer":[
{"data":{"name":"pts"},"mark":{"type":"errorbar","thickness":1.3},"encoding":{"x":{"field":"m","type":"quantitative","scale":{"domain":[-3.58,1.0],"nice":false,"zero":false},"axis":{"orient":"bottom","values":[-3,-2,-1,0],"tickSize":-14,"labelPadding":24,"title":"log ṁ","titlePadding":8}},"xError":{"field":"em"},"y":{"field":"r3","type":"quantitative","scale":{"domain":[-2,2],"nice":false,"zero":false},"axis":{"orient":"left","values":[-2,-1,0,1],"tickSize":-14,"labelPadding":24,"title":null}},"color":{"field":"g","type":"nominal","scale":{"domain":["RMDB","SDSS","VP06"],"range":["#0d1580","#1c7a14","#ff1010"]},"legend":null}}},
{"data":{"name":"pts"},"mark":{"type":"errorbar","thickness":1.3},"encoding":{"y":{"field":"r3","type":"quantitative","scale":{"domain":[-2,2],"nice":false,"zero":false},"axis":{"orient":"right","values":[-1,0,1],"tickSize":-14,"labels":false,"title":null}},"yError":{"field":"ey"},"x":{"field":"m","type":"quantitative","scale":{"domain":[-3.58,1.0],"nice":false,"zero":false},"axis":{"orient":"top","values":[-3,-2,-1,0],"tickSize":-14,"labels":false,"title":null}},"color":{"field":"g","type":"nominal","legend":null}}},
{"data":{"name":"pts"},"mark":{"type":"point","filled":false,"size":60,"strokeWidth":1.5,"opacity":1},"encoding":{"x":{"field":"m","type":"quantitative","scale":{"domain":[-3.58,1.0],"nice":false,"zero":false},"axis":{"orient":"bottom","values":[-3.4,-3.2,-2.8,-2.6,-2.4,-2.2,-1.8,-1.6,-1.4,-1.2,-0.8,-0.6,-0.4,-0.2,0.2,0.4,0.6,0.8],"tickSize":-7,"labels":false,"title":null}},"y":{"field":"r3","type":"quantitative","scale":{"domain":[-2,2],"nice":false,"zero":false},"axis":{"orient":"left","values":[-1.8,-1.6,-1.4,-1.2,-0.8,-0.6,-0.4,-0.2,0.2,0.4,0.6,0.8,1.2,1.4,1.6,1.8],"tickSize":-7,"labels":false,"title":null}},"stroke":{"field":"g","type":"nominal","scale":{"domain":["RMDB","SDSS","VP06"],"range":["#0d1580","#1c7a14","#ff1010"]},"legend":null},"fill":{"field":"g","type":"nominal","scale":{"domain":["RMDB","SDSS","VP06"],"range":["#0d1580","white","white"]},"legend":null},"shape":{"field":"g","type":"nominal","scale":{"domain":["RMDB","SDSS","VP06"],"range":["circle","triangle-up","circle"]},"legend":null}}},
{"data":{"name":"lines"},"transform":[{"filter":"datum.p=='e'"}],"mark":{"type":"line","clip":true,"color":"black","strokeWidth":1.3},"encoding":{"x":{"field":"x","type":"quantitative","scale":{"domain":[-3.58,1.0],"nice":false,"zero":false},"axis":{"orient":"top","values":[-3.4,-3.2,-2.8,-2.6,-2.4,-2.2,-1.8,-1.6,-1.4,-1.2,-0.8,-0.6,-0.4,-0.2,0.2,0.4,0.6,0.8],"tickSize":-7,"labels":false,"title":null}},"y":{"field":"y","type":"quantitative","scale":{"domain":[-2,2],"nice":false,"zero":false},"axis":{"orient":"right","values":[-1.8,-1.6,-1.4,-1.2,-0.8,-0.6,-0.4,-0.2,0.2,0.4,0.6,0.8,1.2,1.4,1.6,1.8],"tickSize":-7,"labels":false,"title":null}},"detail":{"field":"id"},"strokeDash":{"field":"s","type":"nominal","scale":{"domain":["solid","short","long","dot"],"range":[[1,0],[9,6],[22,9],[2,5]]},"legend":null}}},
{"data":{"name":"txt"},"transform":[{"filter":"datum.p=='e'"}],"mark":{"type":"text","fontSize":26,"align":"center","baseline":"middle"},"encoding":{"x":{"field":"x","type":"quantitative","axis":null},"y":{"field":"y","type":"quantitative","axis":null},"text":{"field":"t"},"color":{"field":"c","type":"nominal","scale":null}}}
]},
{"width":492,"height":328,"resolve":{"axis":{"x":"independent","y":"independent"}},"layer":[
{"data":{"name":"pts"},"mark":{"type":"errorbar","thickness":1.3},"encoding":{"x":{"field":"M","type":"quantitative","scale":{"domain":[4.5,9.95],"nice":false,"zero":false},"axis":{"orient":"bottom","values":[5,6,7,8,9],"tickSize":-14,"labelPadding":24,"title":"log μRM (M⊙)","titlePadding":8}},"xError":{"field":"eM"},"y":{"field":"r3","type":"quantitative","scale":{"domain":[-2,2],"nice":false,"zero":false},"axis":{"orient":"left","values":[-1,0,1],"tickSize":-14,"labels":false,"title":null}},"color":{"field":"g","type":"nominal","scale":{"domain":["RMDB","SDSS","VP06"],"range":["#0d1580","#1c7a14","#ff1010"]},"legend":null}}},
{"data":{"name":"pts"},"mark":{"type":"errorbar","thickness":1.3},"encoding":{"y":{"field":"r3","type":"quantitative","scale":{"domain":[-2,2],"nice":false,"zero":false},"axis":{"orient":"right","values":[-2,-1,0,1],"tickSize":-14,"labelPadding":24,"title":null}},"yError":{"field":"ey"},"x":{"field":"M","type":"quantitative","scale":{"domain":[4.5,9.95],"nice":false,"zero":false},"axis":{"orient":"top","values":[5,6,7,8,9],"tickSize":-14,"labels":false,"title":null}},"color":{"field":"g","type":"nominal","legend":null}}},
{"data":{"name":"pts"},"mark":{"type":"point","filled":false,"size":60,"strokeWidth":1.5,"opacity":1},"encoding":{"x":{"field":"M","type":"quantitative","scale":{"domain":[4.5,9.95],"nice":false,"zero":false},"axis":{"orient":"bottom","values":[4.6,4.8,5.2,5.4,5.6,5.8,6.2,6.4,6.6,6.8,7.2,7.4,7.6,7.8,8.2,8.4,8.6,8.8,9.2,9.4,9.6,9.8],"tickSize":-7,"labels":false,"title":null}},"y":{"field":"r3","type":"quantitative","scale":{"domain":[-2,2],"nice":false,"zero":false},"axis":{"orient":"left","values":[-1.8,-1.6,-1.4,-1.2,-0.8,-0.6,-0.4,-0.2,0.2,0.4,0.6,0.8,1.2,1.4,1.6,1.8],"tickSize":-7,"labels":false,"title":null}},"stroke":{"field":"g","type":"nominal","scale":{"domain":["RMDB","SDSS","VP06"],"range":["#0d1580","#1c7a14","#ff1010"]},"legend":null},"fill":{"field":"g","type":"nominal","scale":{"domain":["RMDB","SDSS","VP06"],"range":["#0d1580","white","white"]},"legend":null},"shape":{"field":"g","type":"nominal","scale":{"domain":["RMDB","SDSS","VP06"],"range":["circle","triangle-up","circle"]},"legend":null}}},
{"data":{"name":"lines"},"transform":[{"filter":"datum.p=='f'"}],"mark":{"type":"line","clip":true,"color":"black","strokeWidth":1.3},"encoding":{"x":{"field":"x","type":"quantitative","scale":{"domain":[4.5,9.95],"nice":false,"zero":false},"axis":{"orient":"top","values":[4.6,4.8,5.2,5.4,5.6,5.8,6.2,6.4,6.6,6.8,7.2,7.4,7.6,7.8,8.2,8.4,8.6,8.8,9.2,9.4,9.6,9.8],"tickSize":-7,"labels":false,"title":null}},"y":{"field":"y","type":"quantitative","scale":{"domain":[-2,2],"nice":false,"zero":false},"axis":{"orient":"right","values":[-1.8,-1.6,-1.4,-1.2,-0.8,-0.6,-0.4,-0.2,0.2,0.4,0.6,0.8,1.2,1.4,1.6,1.8],"tickSize":-7,"labels":false,"title":null}},"detail":{"field":"id"},"strokeDash":{"field":"s","type":"nominal","scale":{"domain":["solid","short","long","dot"],"range":[[1,0],[9,6],[22,9],[2,5]]},"legend":null}}},
{"data":{"name":"txt"},"transform":[{"filter":"datum.p=='f'"}],"mark":{"type":"text","fontSize":26,"align":"center","baseline":"middle"},"encoding":{"x":{"field":"x","type":"quantitative","axis":null},"y":{"field":"y","type":"quantitative","axis":null},"text":{"field":"t"},"color":{"field":"c","type":"nominal","scale":null}}}
]}
]}
]}
